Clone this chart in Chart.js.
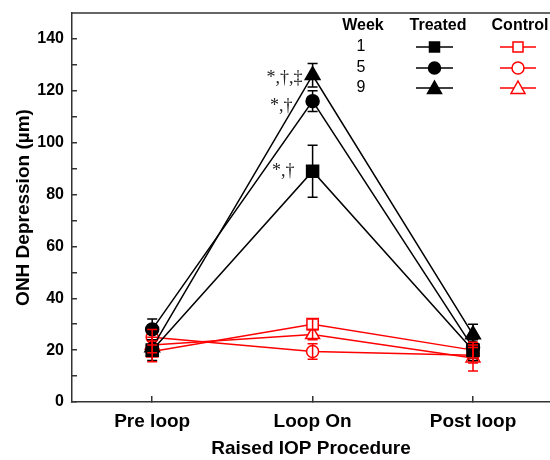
<!DOCTYPE html>
<html>
<head>
<meta charset="utf-8">
<script src="https://cdn.jsdelivr.net/npm/chart.js@4.4.0/dist/chart.umd.min.js"></script>
<style>
html, body { margin: 0; padding: 0; overflow: hidden; background: #fff; }
</style>
</head>
<body>
<canvas id="onh_depression_graph" width="550" height="460"></canvas>
<script>
// categories
const procedures   = ["Pre loop", "Loop On", "Post loop"];
const weeks        = ["1", "5", "9"];

// treated eyes (mean, error)
const treated_w1     = [20, 89, 20];
const treated_w5     = [28, 116, 21];
const treated_w9     = [21, 126, 26];
const treated_w1_err = [4, 10, 4];
const treated_w5_err = [4, 4, 4];
const treated_w9_err = [3, 4.5, 4];

// control eyes (mean, error)
const control_w1     = [19.5, 30, 20];
const control_w5     = [25, 19.5, 18];
const control_w9     = [22, 26, 17];
const control_w1_err = [4, 2, 3];
const control_w5_err = [3, 3, 3];
const control_w9_err = [3, 2, 5];

// significance marks at "Loop On" for weeks 1, 5, 9
const loop_on_marks = ["*,†", "*,†", "*,†,‡"];

const y_ticks = [0, 20, 40, 60, 80, 100, 120, 140];

const black = "#000000";
const red   = "#ff0000";
const axis_color = "#333333";

function make_set(label, values, errs, color, style, radius, filled){
    return {
        label: label,
        data: values.map((v, i) => ({ x: i, y: v })),
        errors: errs,
        borderColor: color,
        borderWidth: 1.5,
        backgroundColor: color,
        pointStyle: style,
        pointRadius: radius,
        pointHoverRadius: radius,
        pointBackgroundColor: filled ? color : "#ffffff",
        pointBorderColor: color,
        pointBorderWidth: 1.5,
        tension: 0
    };
}

const error_bars = {
    id: "error_bars",
    afterDatasetsDraw(chart){
        const ctx = chart.ctx;
        const y = chart.scales.y;
        chart.data.datasets.forEach((ds, di) => {
            const meta = chart.getDatasetMeta(di);
            ctx.save();
            ctx.strokeStyle = ds.borderColor;
            ctx.lineWidth = 1.5;
            meta.data.forEach((pt, i) => {
                const top = y.getPixelForValue(ds.data[i].y + ds.errors[i]);
                const bot = y.getPixelForValue(ds.data[i].y - ds.errors[i]);
                ctx.beginPath();
                ctx.moveTo(pt.x, top); ctx.lineTo(pt.x, bot);
                ctx.moveTo(pt.x - 5, top); ctx.lineTo(pt.x + 5, top);
                ctx.moveTo(pt.x - 5, bot); ctx.lineTo(pt.x + 5, bot);
                ctx.stroke();
            });
            ctx.restore();
        });
    }
};

// top edge of the frame (right edge falls outside the picture)
const frame = {
    id: "frame",
    beforeDatasetsDraw(chart){
        const a = chart.chartArea;
        const ctx = chart.ctx;
        ctx.save();
        ctx.strokeStyle = axis_color;
        ctx.lineWidth = 1.5;
        ctx.beginPath();
        ctx.moveTo(a.left, a.top);
        ctx.lineTo(chart.width, a.top);
        ctx.stroke();
        ctx.restore();
    }
};

const marks = {
    id: "marks",
    afterDatasetsDraw(chart){
        const ctx = chart.ctx;
        const x = chart.scales.x.getPixelForValue(1);
        const y = chart.scales.y;
        const means = [treated_w1[1], treated_w5[1], treated_w9[1]];
        const dx = [-18, -20, -10];
        const dy = [0, 5, 3];
        ctx.save();
        ctx.fillStyle = "#222";
        ctx.font = "18px 'Liberation Serif', 'DejaVu Serif', serif";
        ctx.textAlign = "right";
        ctx.textBaseline = "middle";
        for (let i = 0; i < loop_on_marks.length; i++){
            ctx.fillText(loop_on_marks[i], x + dx[i], y.getPixelForValue(means[i]) + dy[i]);
        }
        ctx.restore();
    }
};

function draw_marker(ctx, style, cx, cy, color, filled){
    ctx.beginPath();
    if (style === "rect"){
        ctx.rect(cx - 5, cy - 5, 10, 10);
    } else if (style === "circle"){
        ctx.arc(cx, cy, 6, 0, Math.PI * 2);
    } else {
        ctx.moveTo(cx, cy - 7);
        ctx.lineTo(cx + 7, cy + 5.5);
        ctx.lineTo(cx - 7, cy + 5.5);
        ctx.closePath();
    }
    ctx.fillStyle = filled ? color : "#ffffff";
    ctx.fill();
    ctx.strokeStyle = color;
    ctx.lineWidth = 1.5;
    ctx.stroke();
}

const week_legend = {
    id: "week_legend",
    afterDraw(chart){
        const ctx = chart.ctx;
        const styles = ["rect", "circle", "triangle"];
        const rows = [47, 68, 88];
        ctx.save();
        ctx.fillStyle = "#000";
        ctx.textAlign = "center";
        ctx.textBaseline = "middle";
        ctx.font = "bold 16px 'Liberation Sans', Arial, sans-serif";
        ctx.fillText("Week", 363, 26);
        ctx.fillText("Treated", 438, 26);
        ctx.fillText("Control", 520, 26);
        ctx.font = "16px 'Liberation Sans', Arial, sans-serif";
        for (let i = 0; i < weeks.length; i++){
            ctx.fillStyle = "#000";
            ctx.fillText(weeks[i], 361, rows[i]);
            ctx.strokeStyle = black;
            ctx.lineWidth = 1.5;
            ctx.beginPath(); ctx.moveTo(416, rows[i]); ctx.lineTo(453, rows[i]); ctx.stroke();
            draw_marker(ctx, styles[i], 434.5, rows[i], black, true);
            ctx.strokeStyle = red;
            ctx.beginPath(); ctx.moveTo(500, rows[i]); ctx.lineTo(536, rows[i]); ctx.stroke();
            draw_marker(ctx, styles[i], 518, rows[i], red, false);
        }
        ctx.restore();
    }
};

const ctx = document.getElementById("onh_depression_graph").getContext("2d");
const myChart = new Chart(ctx, {
    type: "line",
    data: {
        datasets: [
            make_set("Treated 1", treated_w1, treated_w1_err, black, "rect", 8.5, true),
            make_set("Treated 5", treated_w5, treated_w5_err, black, "circle", 6.5, true),
            make_set("Treated 9", treated_w9, treated_w9_err, black, "triangle", 8.5, true),
            make_set("Control 1", control_w1, control_w1_err, red, "rect", 8, false),
            make_set("Control 5", control_w5, control_w5_err, red, "circle", 6, false),
            make_set("Control 9", control_w9, control_w9_err, red, "triangle", 8, false)
        ]
    },
    options: {
        responsive: false,
        animation: false,
        layout: { autoPadding: false, padding: { top: 13, right: 0, left: 0, bottom: 0 } },
        plugins: {
            legend: { display: false },
            tooltip: { enabled: false }
        },
        scales: {
            x: {
                type: "linear",
                min: -0.5,
                max: 2.48,
                afterFit(scale){
                    scale.height = 58;
                    scale.paddingLeft = 0;
                    scale.paddingRight = 0;
                },
                afterBuildTicks(scale){
                    scale.ticks = procedures.map((p, i) => ({ value: i }));
                },
                grid: { drawOnChartArea: false, tickLength: -6, color: axis_color, lineWidth: 1.5 },
                border: { color: axis_color, width: 1.5 },
                ticks: {
                    color: "#000",
                    padding: 14,
                    maxRotation: 0,
                    callback: (v) => procedures[v],
                    font: { family: "'Liberation Sans', Arial, sans-serif", size: 19, weight: "bold" }
                },
                title: {
                    display: true,
                    text: "Raised IOP Procedure",
                    color: "#000",
                    padding: { top: 0, bottom: 0 },
                    font: { family: "'Liberation Sans', Arial, sans-serif", size: 19, weight: "bold" }
                }
            },
            y: {
                min: 0,
                max: 150,
                afterFit(scale){
                    scale.width = 72;
                    scale.paddingTop = 0;
                    scale.paddingBottom = 0;
                },
                afterBuildTicks(scale){
                    let t = [];
                    for (let v = 0; v <= 140; v += 10) t.push({ value: v });
                    scale.ticks = t;
                },
                grid: { drawOnChartArea: false, tickLength: -5, color: axis_color, lineWidth: 1.5 },
                border: { color: axis_color, width: 1.5 },
                ticks: {
                    color: "#000",
                    padding: 13,
                    callback: (v) => y_ticks.includes(v) ? String(v) : "",
                    font: { family: "'Liberation Sans', Arial, sans-serif", size: 16, weight: "bold" }
                },
                title: {
                    display: true,
                    text: "ONH Depression (µm)",
                    color: "#000",
                    padding: { top: 12, bottom: 0 },
                    font: { family: "'Liberation Sans', Arial, sans-serif", size: 19, weight: "bold" }
                }
            }
        }
    },
    plugins: [frame, error_bars, marks, week_legend]
});
</script>
</body>
</html>
